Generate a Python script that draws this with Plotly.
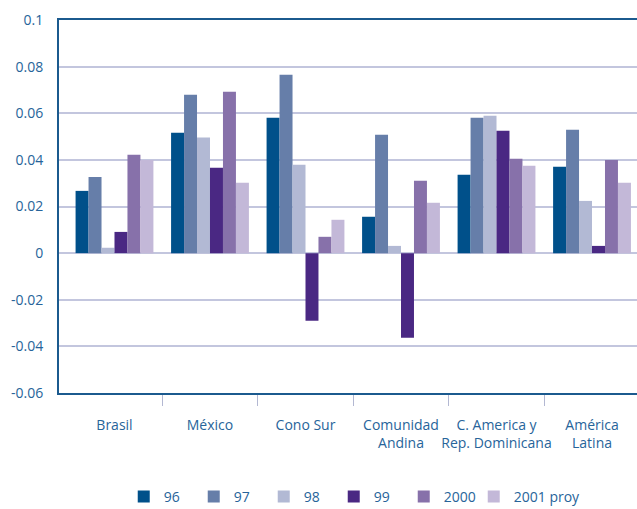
import plotly.graph_objects as go

categories = ["Brasil", "México", "Cono Sur", "Comunidad<br>Andina",
              "C. America y<br>Rep. Dominicana", "América<br>Latina"]
series_names = ["96", "97", "98", "99", "2000", "2001 proy"]
v96 = [0.0267, 0.0516, 0.0581, 0.0156, 0.0336, 0.0370]
v97 = [0.0327, 0.0679, 0.0765, 0.0508, 0.0581, 0.0529]
v98 = [0.0023, 0.0496, 0.0379, 0.0031, 0.0589, 0.0224]
v99 = [0.0091, 0.0366, -0.0290, -0.0363, 0.0525, 0.0031]
v2000 = [0.0422, 0.0692, 0.0070, 0.0310, 0.0405, 0.0400]
v2001 = [0.0399, 0.0302, 0.0143, 0.0216, 0.0375, 0.0302]
y_tickvals = [0.1, 0.08, 0.06, 0.04, 0.02, 0, -0.02, -0.04, -0.06]
y_ticktext = ["0.1", "0.08", "0.06", "0.04", "0.02", "0", "-0.02", "-0.04", "-0.06"]

colors = ["#00508a", "#667ea9", "#b2b9d4", "#4a2883", "#8771aa", "#c3b8d8"]
series = [v96, v97, v98, v99, v2000, v2001]
xpos = list(range(len(categories)))

TXT = "#27649a"
FONT = "Open Sans"

fig = go.Figure()
for name, vals, col in zip(series_names, series, colors):
    fig.add_trace(go.Bar(x=xpos, y=vals, name=name, marker_color=col,
                         marker_line_width=0))
# invisible spacer legend entry (scatter, so it takes no bar slot)
fig.add_trace(go.Scatter(x=[None], y=[None], name=" ", mode="markers",
                         marker=dict(color="rgba(0,0,0,0)"), hoverinfo="skip"))

fig.update_layout(
    width=637, height=509,
    margin=dict(l=59, r=0, t=20, b=116),
    paper_bgcolor="white", plot_bgcolor="white",
    barmode="group", bargap=0.185, bargroupgap=0,
    font=dict(family=FONT, size=14, color=TXT),
    showlegend=True,
    legend=dict(orientation="h", x=0.112, xanchor="left",
                yref="container", y=0.024, yanchor="middle",
                font=dict(family=FONT, size=14, color=TXT),
                entrywidth=25, entrywidthmode="pixels", itemwidth=30,
                traceorder="normal"),
    xaxis=dict(range=[-0.581, 5.471], tickvals=xpos, ticktext=categories,
               ticks="", showgrid=False, zeroline=False, automargin=False,
               showline=True, linecolor="#1b5a8e", linewidth=2, mirror=True,
               ticklabelstandoff=18,
               tickfont=dict(family=FONT, size=14, color=TXT),
               minor=dict(tickvals=[0.5, 1.5, 2.5, 3.5, 4.5], ticks="outside",
                          ticklen=11, tickwidth=1, tickcolor="#b3b8d2",
                          showgrid=False)),
    yaxis=dict(range=[-0.06, 0.1], tickvals=y_tickvals, ticktext=y_ticktext,
               showgrid=True, gridcolor="#c3c6de", gridwidth=2,
               zeroline=True, zerolinecolor="#c3c6de", zerolinewidth=2,
               showline=True, linecolor="#1b5a8e", linewidth=2,
               ticks="", ticklabelstandoff=11, automargin=False,
               tickfont=dict(family=FONT, size=14, color=TXT)),
)

fig.write_html("out.html", config={"displayModeBar": False},
               post_script="document.body.style.margin='0';")
